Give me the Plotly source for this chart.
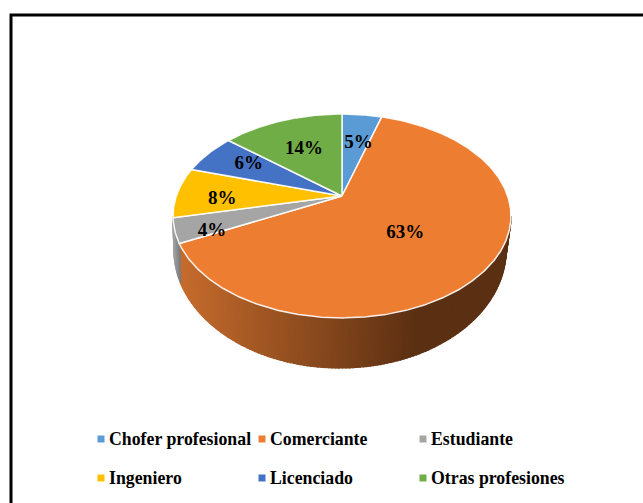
import math
import plotly.graph_objects as go

categories = ["Chofer profesional", "Comerciante", "Estudiante", "Ingeniero", "Licenciado", "Otras profesiones"]
values = [4.6, 63.1, 3.9, 8.0, 6.4, 14.0]
colors = ["#5B9BD5", "#ED7D31", "#A5A5A5", "#FFC000", "#4472C4", "#70AD47"]

# styling / layout (pixel space of the 643x503 page)
CX, CY = 342.0, 196.0
A, B, P = 165.7, 98.0, 0.196
ELL_CX, ELL_CY, ELL_RX, ELL_RY = 342.0, 216.0, 169.0, 102.0   # top face as drawn
BOT_CX, BOT_CY, BOT_RX, BOT_RY = 340.0, 250.0, 166.0, 118.0   # lower rim of the wall
label_r = [0.74, 0.47, 0.80, 0.74, 0.70, 0.65]
label_dx = [1, 0, 2, 2, 3, 3]
label_dy = [10, 6, 8, 6, -1, 5]
legend_x = [101, 262, 423]
legend_y = [439, 478]
FONT = "Liberation Serif"
RIGHT_T = math.degrees(math.acos(-P))      # silhouette of the cylinder, right
LEFT_T = 360 - RIGHT_T                     # silhouette of the cylinder, left


def proj(theta_deg, r=1.0):
    t = math.radians(theta_deg)
    X, Y = r * math.sin(t), r * math.cos(t)
    w = 1 + P * Y
    return CX + A * X / w, CY - B * Y / w


def rim(theta_deg):
    x, y = proj(theta_deg)
    u, v = (x - ELL_CX) / ELL_RX, (y - ELL_CY) / ELL_RY
    return BOT_CX + BOT_RX * u, BOT_CY + BOT_RY * v


def arc(t0, t1, f=proj, step=1.0):
    n = max(2, int(abs(t1 - t0) / step) + 1)
    return [f(t0 + (t1 - t0) * i / (n - 1)) for i in range(n)]


def mix(c0, c1, f):
    return "rgb(%d,%d,%d)" % tuple(round(a + (b - a) * f) for a, b in zip(c0, c1))


total = sum(values)
bounds = [0.0]
for v in values:
    bounds.append(bounds[-1] + v / total * 360)

fig = go.Figure()

# side wall, drawn as thin strips under the top face
orange_end = bounds[2]
t = RIGHT_T
while t < LEFT_T:
    t1 = min(t + 1.0, LEFT_T)
    mid = (t + t1) / 2
    x_mid = proj(mid)[0]
    if mid < orange_end:
        f = min(1.0, max(0.0, (x_mid - 180) / 235))
        col = mix((198, 108, 45), (92, 48, 19), f)
    else:
        f = min(1.0, max(0.0, (x_mid - 172) / 9))
        col = mix((165, 165, 170), (110, 110, 110), f)
    pts = arc(t, t1) + arc(t1, t, f=rim)
    pts.append(pts[0])
    fig.add_trace(go.Scatter(x=[p[0] for p in pts], y=[p[1] for p in pts], mode="lines",
                             fill="toself", fillcolor=col, line=dict(color=col, width=1.5),
                             hoverinfo="skip", showlegend=False))
    t = t1

# top face wedges
for i, cat in enumerate(categories):
    pts = [(CX, CY)] + arc(bounds[i], bounds[i + 1], step=0.5) + [(CX, CY)]
    fig.add_trace(go.Scatter(x=[p[0] for p in pts], y=[p[1] for p in pts], mode="lines",
                             fill="toself", fillcolor=colors[i], name=cat,
                             line=dict(color="rgba(255,255,255,0.9)", width=1.5),
                             showlegend=False))

# percent labels
lx, ly, lt = [], [], []
for i, v in enumerate(values):
    x, y = proj((bounds[i] + bounds[i + 1]) / 2, r=label_r[i])
    lx.append(x + label_dx[i])
    ly.append(y + label_dy[i])
    lt.append(f"{round(v / total * 100)}%")
fig.add_trace(go.Scatter(x=lx, y=ly, text=lt, mode="text", textposition="middle center",
                         textfont=dict(family=FONT, size=19, color="#000000", weight="bold"),
                         hoverinfo="skip", showlegend=False))

# legend, three columns by two rows
for i, cat in enumerate(categories):
    mx, my = legend_x[i % 3], legend_y[i // 3]
    fig.add_trace(go.Scatter(x=[mx], y=[my], mode="markers",
                             marker=dict(symbol="square", size=7, color=colors[i]),
                             hoverinfo="skip", showlegend=False))
    fig.add_trace(go.Scatter(x=[mx + 8], y=[my + 2], text=[cat], mode="text", textposition="middle right",
                             textfont=dict(family=FONT, size=17.8, color="#000000", weight="bold"),
                             hoverinfo="skip", showlegend=False))

fig.update_layout(
    width=643, height=503, margin=dict(l=0, r=0, t=0, b=0, pad=0),
    paper_bgcolor="#ffffff", plot_bgcolor="#ffffff", showlegend=False,
    xaxis=dict(range=[0, 643], visible=False, fixedrange=True),
    yaxis=dict(range=[503, 0], visible=False, fixedrange=True),
    shapes=[dict(type="path", path="M 11 503 L 11 15 L 643 15", xref="x", yref="y",
                 line=dict(color="#000000", width=3))],
)
fig.write_html("out.html", config={"displayModeBar": False},
               post_script="document.body.style.margin='0';document.body.style.overflow='hidden';")
